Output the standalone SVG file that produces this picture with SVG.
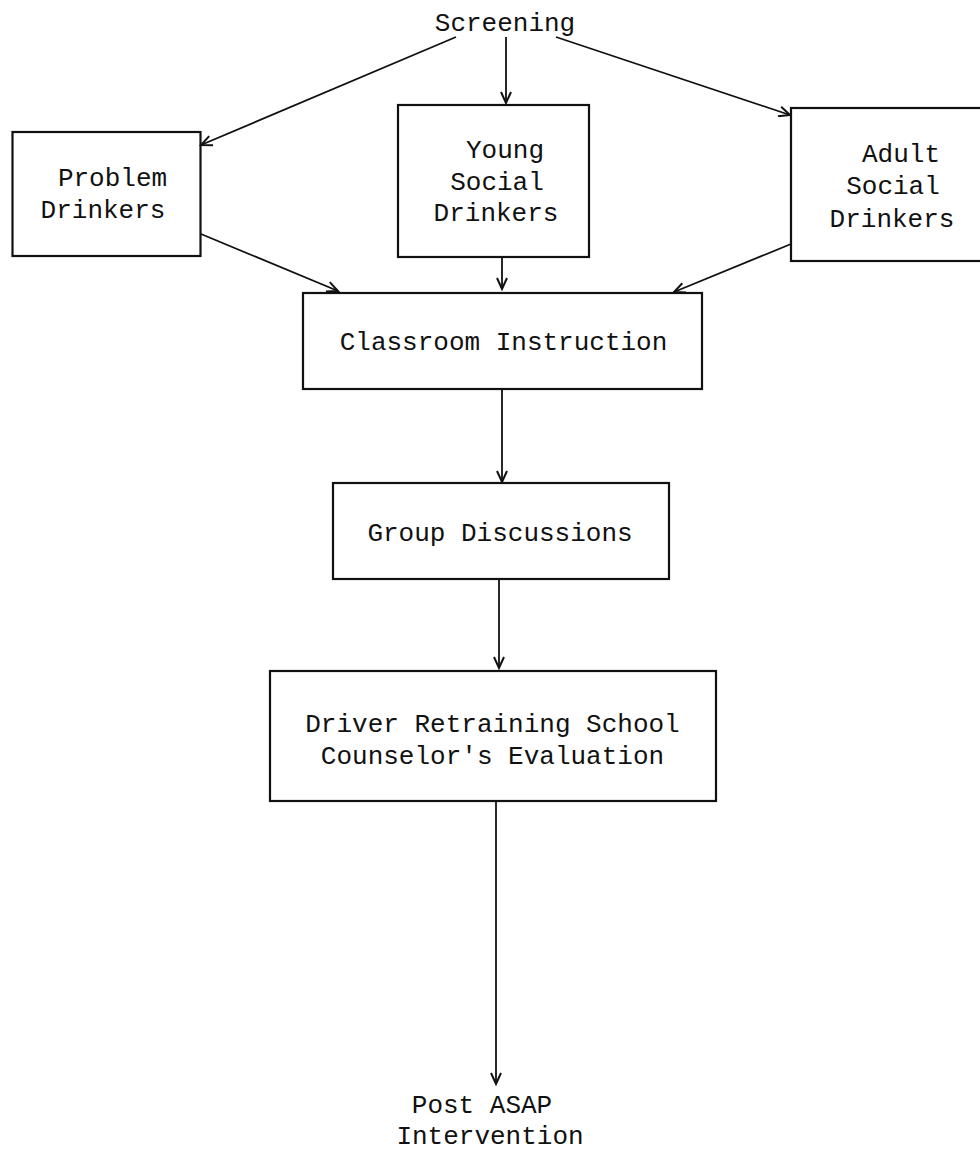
<svg xmlns="http://www.w3.org/2000/svg" width="980" height="1152" viewBox="0 0 980 1152">
<style>
.box{fill:none;stroke:#111;stroke-width:2.2}
.t{font-family:"Liberation Mono","DejaVu Sans Mono",monospace;font-size:26px;fill:#111;text-anchor:middle}
.c{stroke:#111;stroke-width:1.8;fill:none}
</style>
<defs>
<marker id="ah" markerUnits="userSpaceOnUse" markerWidth="14" markerHeight="12" refX="12" refY="6" orient="auto" viewBox="0 0 14 12">
<path d="M1,1 L12,6 L1,11" fill="none" stroke="#111" stroke-width="2"/>
</marker>
</defs>
<rect width="980" height="1152" fill="#fff"/>
<g id="screening"><text class="t" x="505" y="31">Screening</text></g>
<g id="problem"><rect class="box" x="12.5" y="132" width="188" height="124"/>
<text class="t" x="112.5" y="186">Problem</text><text class="t" x="103" y="218">Drinkers</text></g>
<g id="young"><rect class="box" x="398" y="105" width="191" height="152"/>
<text class="t" x="505" y="158">Young</text><text class="t" x="497" y="190">Social</text><text class="t" x="496" y="221">Drinkers</text></g>
<g id="adult"><rect class="box" x="791" y="108" width="220" height="153"/>
<text class="t" x="901" y="162">Adult</text><text class="t" x="893" y="194">Social</text><text class="t" x="892" y="227">Drinkers</text></g>
<g id="classroom"><rect class="box" x="303" y="293" width="399" height="96"/>
<text class="t" x="503.5" y="350">Classroom Instruction</text></g>
<g id="group"><rect class="box" x="333" y="483" width="336" height="96"/>
<text class="t" x="500" y="541">Group Discussions</text></g>
<g id="driver"><rect class="box" x="270" y="671" width="446" height="130"/>
<text class="t" x="492.5" y="732">Driver Retraining School</text><text class="t" x="492.5" y="764">Counselor's Evaluation</text></g>
<g id="post"><text class="t" x="482" y="1113">Post ASAP</text><text class="t" x="490" y="1144">Intervention</text></g>
<g id="connectors">
<line class="c" x1="456" y1="37" x2="201" y2="145" marker-end="url(#ah)"/>
<line class="c" x1="506" y1="37" x2="506" y2="103" marker-end="url(#ah)"/>
<line class="c" x1="556" y1="37" x2="790" y2="115" marker-end="url(#ah)"/>
<line class="c" x1="201" y1="234" x2="338" y2="291" marker-end="url(#ah)"/>
<line class="c" x1="502" y1="257" x2="502" y2="289" marker-end="url(#ah)"/>
<line class="c" x1="791" y1="244" x2="674" y2="292" marker-end="url(#ah)"/>
<line class="c" x1="502" y1="389" x2="502" y2="482" marker-end="url(#ah)"/>
<line class="c" x1="499" y1="579" x2="499" y2="668" marker-end="url(#ah)"/>
<line class="c" x1="496" y1="801" x2="496" y2="1084" marker-end="url(#ah)"/>
</g>
</svg>
